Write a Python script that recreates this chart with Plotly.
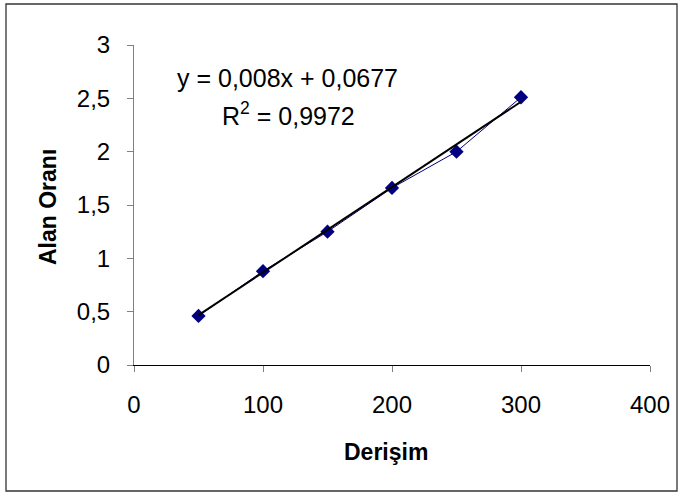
import plotly.graph_objects as go

derisim = [50, 100, 150, 200, 250, 300]
alan_orani = [0.46, 0.88, 1.25, 1.66, 2.0, 2.51]
slope = 0.008
intercept = 0.0677
x_ticks = [0, 100, 200, 300, 400]
y_ticks = [0, 0.5, 1, 1.5, 2, 2.5, 3]
eq_line1 = "y = 0,008x + 0,0677"
eq_line2 = "R<sup>2</sup> = 0,9972"

W, H = 684, 497
L, R, T, B = 134, 34, 45, 132
pw, ph = W - L - R, H - T - B

def px(xp):
    return (xp - L) / pw

def py(yp):
    return (H - B - yp) / ph

fit_x = [min(derisim), max(derisim)]
fit_y = [slope * v + intercept for v in fit_x]

fig = go.Figure()
fig.add_trace(go.Scatter(x=derisim, y=alan_orani, mode="lines+markers",
                         line=dict(color="#000080", width=1),
                         marker=dict(symbol="diamond", size=11, color="#000080"),
                         showlegend=False, hoverinfo="skip"))
fig.add_trace(go.Scatter(x=fit_x, y=fit_y, mode="lines",
                         line=dict(color="black", width=2),
                         showlegend=False, hoverinfo="skip"))

font = "Liberation Sans, Arial, sans-serif"
fig.update_layout(
    width=W, height=H, margin=dict(l=L, r=R, t=T, b=B, pad=0),
    paper_bgcolor="white", plot_bgcolor="white",
    separators=", ",
    font=dict(family=font, size=24, color="black"),
    xaxis=dict(range=[0, 400], tickvals=x_ticks, showgrid=False, zeroline=False,
               showline=True, linecolor="black", linewidth=1,
               ticks="outside", ticklen=6, tickcolor="#808080", tickwidth=1,
               ticklabelstandoff=12, tickfont=dict(size=24)),
    yaxis=dict(range=[0, 3], tickvals=y_ticks, showgrid=False, zeroline=False,
               showline=True, linecolor="#808080", linewidth=1,
               ticks="outside", ticklen=6, tickcolor="#808080", tickwidth=1,
               ticklabelstandoff=12, tickfont=dict(size=24)),
    shapes=[dict(type="rect", xref="paper", yref="paper",
                 x0=px(6), x1=px(677), y0=py(491), y1=py(4),
                 line=dict(color="#333333", width=1.3), layer="below")],
    annotations=[
        dict(text=eq_line1, xref="paper", yref="paper", x=px(287), y=py(78),
             showarrow=False, xanchor="center", yanchor="middle",
             font=dict(size=25, family=font)),
        dict(text=eq_line2, xref="paper", yref="paper", x=px(288), y=py(114),
             showarrow=False, xanchor="center", yanchor="middle",
             font=dict(size=25, family=font)),
        dict(text="<b>Derişim</b>", xref="paper", yref="paper", x=px(386), y=py(452),
             showarrow=False, xanchor="center", yanchor="middle",
             font=dict(size=23, family=font)),
        dict(text="<b>Alan Oranı</b>", xref="paper", yref="paper", x=px(48), y=py(207),
             showarrow=False, xanchor="center", yanchor="middle", textangle=-90,
             font=dict(size=23, family=font)),
    ],
)
fig.write_html("out.html")
